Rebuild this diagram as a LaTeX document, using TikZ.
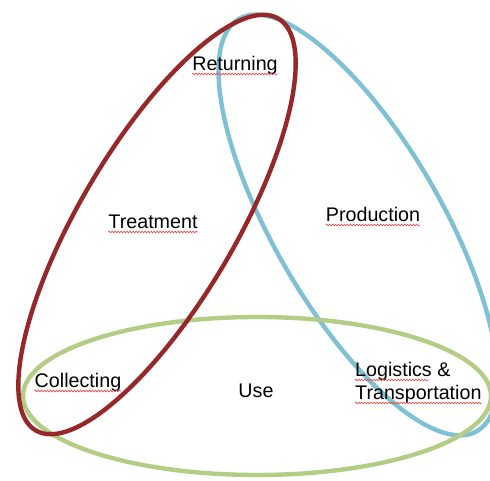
\documentclass[tikz,border=0pt]{standalone}
\usepackage{fontspec}
\setmainfont{Liberation Sans}
\usetikzlibrary{decorations.pathmorphing}
\definecolor{ringred}{RGB}{150,40,42}
\definecolor{ringblue}{RGB}{126,192,212}
\definecolor{ringgreen}{RGB}{180,205,134}
\definecolor{squig}{RGB}{228,80,80}
\begin{document}
\begin{tikzpicture}[x=1pt,y=1pt,
  ring/.style={line width=4.4pt},
  lbl/.style={font=\fontsize{19.7pt}{23pt}\selectfont, inner sep=0pt, anchor=base, text=black},
  spell/.style={draw=squig, line width=0.7pt, decorate,
    decoration={snake, segment length=3pt, amplitude=0.8pt}}]
\useasboundingbox[fill=white] (0,0) rectangle (490,481);
% ellipses
\draw[ring, ringblue, rotate around={120:(358,256)}] (358,256) ellipse [x radius=238, y radius=84];
\draw[ring, ringgreen] (257,85) ellipse [x radius=234, y radius=79];
\draw[ring, ringred, rotate around={59.5:(157,256.5)}] (157,256.5) ellipse [x radius=239, y radius=78];
% labels
\node[lbl] (ret) at (235,410) {Returning};
\node[lbl] (tre) at (153,252) {Treatment};
\node[lbl] (pro) at (373,259) {Production};
\node[lbl] (col) at (78,93) {Collecting};
\node[lbl] (use) at (256,83) {Use};
\node[lbl, anchor=base west] (log) at (355,104) {Logistics \&};
\node[lbl, anchor=base west] (tra) at (355,81) {Transportation};
% spell-check squiggles
\draw[spell] ([yshift=-3pt]ret.base west) -- ([yshift=-3pt]ret.base east);
\draw[spell] ([yshift=-3pt]tre.base west) -- ([yshift=-3pt]tre.base east);
\draw[spell] ([yshift=-3pt]pro.base west) -- ([yshift=-3pt]pro.base east);
\draw[spell] ([yshift=-3pt]col.base west) -- ([yshift=-3pt]col.base east);
\draw[spell] ([yshift=-3pt]log.base west) -- ([xshift=-22pt,yshift=-3pt]log.base east);
\draw[spell] ([yshift=-3pt]tra.base west) -- ([yshift=-3pt]tra.base east);
\end{tikzpicture}
\end{document}
